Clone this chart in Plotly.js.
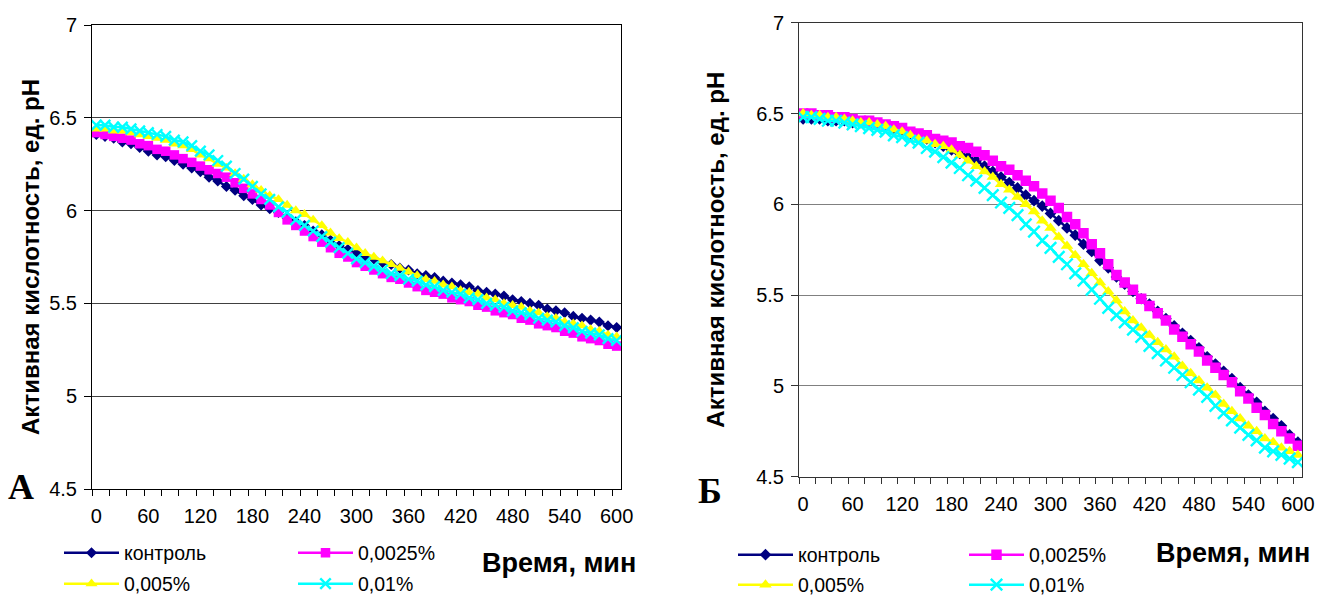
<!DOCTYPE html>
<html>
<head>
<meta charset="utf-8">
<script src="https://cdn.plot.ly/plotly-3.0.1.min.js"></script>
<style>html,body{margin:0;padding:0;background:#fff}#chart{width:1317px;height:595px}</style>
</head>
<body>
<div id="chart"></div>
<script>
// Time points, minutes
const minutes = [0,10,20,30,40,50,60,70,80,90,100,110,120,130,140,150,160,170,180,190,200,210,220,230,240,250,260,270,280,290,300,310,320,330,340,350,360,370,380,390,400,410,420,430,440,450,460,470,480,490,500,510,520,530,540,550,560,570,580,590,600];
const tickVals = [0,60,120,180,240,300,360,420,480,540,600];
const tickLabels = ['0','60','120','180','240','300','360','420','480','540','600'];
const seriesNames = ['контроль','0,0025%','0,005%','0,01%'];

// Panel А
const leftControl = [6.41,6.40,6.39,6.37,6.36,6.34,6.32,6.30,6.29,6.27,6.25,6.23,6.21,6.18,6.16,6.13,6.11,6.08,6.06,6.03,6.01,5.99,5.96,5.94,5.92,5.89,5.87,5.84,5.81,5.79,5.77,5.75,5.74,5.72,5.71,5.69,5.68,5.66,5.65,5.64,5.62,5.61,5.60,5.59,5.57,5.56,5.55,5.54,5.52,5.51,5.50,5.49,5.47,5.46,5.45,5.43,5.42,5.41,5.40,5.38,5.37];
const leftP0025 = [6.42,6.41,6.40,6.39,6.38,6.36,6.35,6.33,6.32,6.30,6.28,6.26,6.24,6.22,6.20,6.18,6.15,6.12,6.09,6.06,6.03,5.99,5.95,5.92,5.89,5.86,5.83,5.80,5.77,5.75,5.72,5.70,5.68,5.66,5.64,5.63,5.61,5.59,5.57,5.56,5.55,5.53,5.52,5.51,5.49,5.48,5.46,5.45,5.44,5.42,5.41,5.39,5.38,5.37,5.35,5.34,5.32,5.31,5.30,5.28,5.27];
const leftP005 = [6.44,6.44,6.43,6.43,6.42,6.41,6.40,6.39,6.38,6.36,6.35,6.33,6.30,6.28,6.25,6.23,6.20,6.17,6.14,6.11,6.08,6.06,6.03,6.00,5.98,5.95,5.92,5.88,5.85,5.83,5.80,5.77,5.75,5.73,5.71,5.69,5.67,5.65,5.63,5.62,5.60,5.59,5.57,5.56,5.55,5.53,5.52,5.50,5.49,5.48,5.46,5.45,5.43,5.42,5.40,5.39,5.38,5.36,5.35,5.33,5.32];
const leftP001 = [6.46,6.46,6.45,6.45,6.44,6.43,6.42,6.41,6.40,6.38,6.37,6.35,6.32,6.30,6.27,6.24,6.20,6.17,6.13,6.09,6.06,6.02,5.99,5.95,5.92,5.89,5.86,5.83,5.80,5.77,5.74,5.72,5.70,5.68,5.66,5.65,5.63,5.62,5.60,5.59,5.57,5.56,5.55,5.53,5.52,5.50,5.49,5.48,5.46,5.45,5.44,5.42,5.41,5.40,5.38,5.37,5.35,5.34,5.33,5.31,5.30];

// Panel Б
const rightControl = [6.47,6.47,6.47,6.46,6.46,6.46,6.45,6.45,6.44,6.44,6.43,6.42,6.41,6.39,6.38,6.36,6.34,6.32,6.30,6.28,6.26,6.24,6.21,6.18,6.15,6.12,6.09,6.05,6.02,5.99,5.95,5.91,5.87,5.83,5.78,5.74,5.69,5.65,5.60,5.56,5.52,5.48,5.45,5.41,5.37,5.33,5.29,5.25,5.21,5.16,5.12,5.08,5.04,4.99,4.95,4.91,4.86,4.82,4.78,4.73,4.69];
const rightP0025 = [6.50,6.50,6.49,6.49,6.48,6.48,6.47,6.46,6.46,6.45,6.44,6.43,6.42,6.40,6.39,6.38,6.36,6.35,6.34,6.32,6.31,6.29,6.27,6.24,6.21,6.19,6.16,6.13,6.10,6.06,6.02,5.98,5.93,5.89,5.84,5.78,5.73,5.67,5.61,5.57,5.53,5.48,5.44,5.40,5.36,5.31,5.27,5.23,5.19,5.14,5.10,5.06,5.02,4.97,4.93,4.88,4.84,4.79,4.75,4.71,4.67];
const rightP005 = [6.50,6.49,6.49,6.48,6.48,6.47,6.46,6.45,6.45,6.44,6.43,6.41,6.40,6.38,6.36,6.35,6.33,6.32,6.30,6.27,6.24,6.21,6.18,6.15,6.11,6.08,6.04,6.00,5.96,5.91,5.87,5.82,5.77,5.72,5.67,5.62,5.57,5.52,5.47,5.41,5.36,5.32,5.28,5.24,5.20,5.16,5.11,5.07,5.03,4.99,4.95,4.90,4.86,4.82,4.78,4.75,4.71,4.69,4.66,4.64,4.62];
const rightP001 = [6.48,6.48,6.47,6.46,6.46,6.45,6.44,6.43,6.42,6.41,6.40,6.38,6.37,6.35,6.34,6.31,6.29,6.26,6.23,6.20,6.16,6.13,6.09,6.05,6.01,5.98,5.94,5.89,5.85,5.80,5.76,5.71,5.67,5.62,5.58,5.53,5.48,5.43,5.39,5.35,5.31,5.27,5.22,5.18,5.14,5.10,5.06,5.02,4.98,4.94,4.89,4.85,4.81,4.77,4.73,4.70,4.66,4.64,4.62,4.60,4.58];

const W = 1317, H = 595;
const FONT = 'Liberation Sans, Arial, sans-serif';
const colors = ['#000080', '#FF00FF', '#FFFF00', '#00FFFF'];
const symbols = ['diamond', 'square', 'triangle-up', 'x-thin-open'];

function mk(i, y, xa, ya, legendId, size) {
  const m = {symbol: symbols[i], color: colors[i], size: size[i]};
  if (symbols[i] === 'x-thin-open') m.line = {color: colors[i], width: 2.4};
  else m.line = {width: 0};
  return {
    type: 'scatter', mode: 'lines+markers', name: seriesNames[i],
    x: minutes, y: y, xaxis: xa, yaxis: ya, legend: legendId,
    line: {color: colors[i], width: 2.5}, marker: m,
    hoverinfo: 'x+y'
  };
}
const sizeL = [8.5, 9.5, 10.5, 10.5];
const sizeR = [9, 10.5, 11, 11.5];
const data = [
  mk(0, leftControl, 'x', 'y', 'legend', sizeL),
  mk(1, leftP0025, 'x', 'y', 'legend', sizeL),
  mk(2, leftP005, 'x', 'y', 'legend2', sizeL),
  mk(3, leftP001, 'x', 'y', 'legend2', sizeL),
  mk(0, rightControl, 'x2', 'y2', 'legend3', sizeR),
  mk(1, rightP0025, 'x2', 'y2', 'legend3', sizeR),
  mk(2, rightP005, 'x2', 'y2', 'legend4', sizeR),
  mk(3, rightP001, 'x2', 'y2', 'legend4', sizeR)
];

const px = v => v / W;
const py = v => (H - v) / H;

function xAxis(dom, anchor, lineColor) {
  return {
    domain: dom, anchor: anchor, range: [-5, 605], type: 'linear',
    tickmode: 'array', tickvals: tickVals, ticktext: tickLabels,
    ticks: '', showline: true, linecolor: lineColor, linewidth: 1, mirror: true,
    showgrid: false, zeroline: false, fixedrange: true,
    tickfont: {family: FONT, size: 20, color: '#000'}, ticklabelstandoff: 9,
    minor: {ticks: 'outside', ticklen: 6, tickcolor: lineColor, tickwidth: 1, tickmode: 'linear', tick0: -5, dtick: 20, showgrid: false}
  };
}
function yAxis(dom, anchor, lineColor, gridColor, standoff) {
  return {
    domain: dom, anchor: anchor, range: [4.5, 7], tickmode: 'linear', tick0: 4.5, dtick: 0.5,
    ticks: 'outside', ticklen: 7, tickcolor: lineColor, showline: true, linecolor: lineColor, linewidth: 1, mirror: true,
    showgrid: true, gridcolor: gridColor, gridwidth: 1, zeroline: false, fixedrange: true,
    tickfont: {family: FONT, size: 20, color: '#000'}, ticklabelstandoff: 3,
    title: {text: 'Активная кислотность, ед. рН', standoff: standoff, font: {family: FONT, size: 24, color: '#000', weight: 'bold'}}
  };
}
function legendAt(x, y, ew) {
  return {
    orientation: 'h', x: x, y: y, xanchor: 'left', yanchor: 'middle',
    entrywidth: ew, entrywidthmode: 'pixels', itemwidth: 55,
    font: {family: FONT, size: 19.5, color: '#000'}, bgcolor: 'rgba(0,0,0,0)', borderwidth: 0,
    itemclick: false, itemdoubleclick: false, tracegroupgap: 0
  };
}

const layout = {
  width: W, height: H, margin: {l: 0, r: 0, t: 0, b: 0, autoexpand: false},
  paper_bgcolor: '#fff', plot_bgcolor: '#fff', showlegend: true,
  font: {family: FONT, color: '#000'},
  xaxis: xAxis([px(92), px(621)], 'y', '#000'),
  yaxis: yAxis([py(489), py(25)], 'x', '#000', '#404040', 2),
  xaxis2: xAxis([px(799), px(1302)], 'y2', '#333'),
  yaxis2: yAxis([py(476.7), py(22.7)], 'x2', '#333', '#808080', 24),
  legend: legendAt(px(59), py(553), 164),
  legend2: legendAt(px(59), py(584), 164),
  legend3: legendAt(px(733), py(555), 161),
  legend4: legendAt(px(733), py(585), 161),
  annotations: [
    {text: 'Время, мин', x: px(559), y: py(563), xref: 'paper', yref: 'paper', showarrow: false, xanchor: 'center', yanchor: 'middle', font: {family: FONT, size: 27, color: '#000', weight: 'bold'}},
    {text: 'Время, мин', x: px(1233), y: py(553), xref: 'paper', yref: 'paper', showarrow: false, xanchor: 'center', yanchor: 'middle', font: {family: FONT, size: 27, color: '#000', weight: 'bold'}},
    {text: 'А', x: px(21), y: py(487), xref: 'paper', yref: 'paper', showarrow: false, xanchor: 'center', yanchor: 'middle', font: {family: 'Liberation Serif, Times New Roman, serif', size: 36, color: '#000', weight: 'bold'}},
    {text: 'Б', x: px(710), y: py(491), xref: 'paper', yref: 'paper', showarrow: false, xanchor: 'center', yanchor: 'middle', font: {family: 'Liberation Serif, Times New Roman, serif', size: 36, color: '#000', weight: 'bold'}}
  ]
};

Plotly.newPlot('chart', data, layout, {displayModeBar: false, staticPlot: true});
</script>
</body>
</html>
